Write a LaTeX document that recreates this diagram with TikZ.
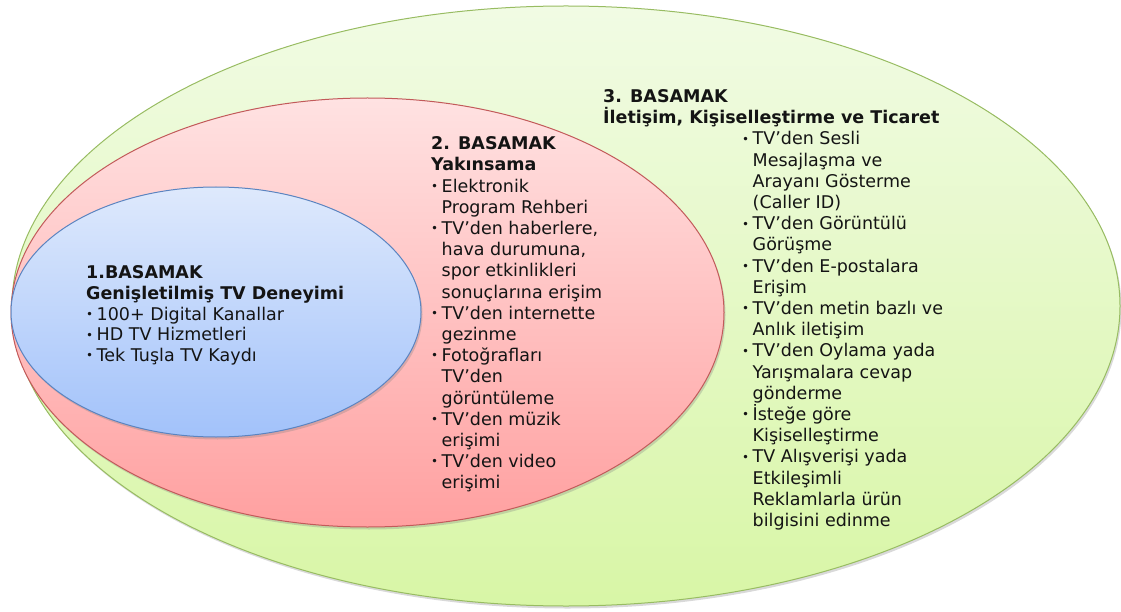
\documentclass[tikz,border=0pt]{standalone}
\usepackage{fontspec}
\usepackage{graphicx}
\setmainfont{DejaVu Sans}
\usetikzlibrary{shapes.geometric,shadows}
\definecolor{gtop}{HTML}{F1FBE4}
\definecolor{gbot}{HTML}{D8F6A6}
\definecolor{gline}{HTML}{98BC62}
\definecolor{rtop}{HTML}{FFE2E2}
\definecolor{rbot}{HTML}{FFA0A0}
\definecolor{rline}{HTML}{C25A5A}
\definecolor{btop}{HTML}{DEE9FC}
\definecolor{bbot}{HTML}{A2C2FA}
\definecolor{bline}{HTML}{5B84C0}
\definecolor{txtcol}{HTML}{141414}
\newcommand{\bul}{\makebox[10.5pt][l]{\raisebox{0.1em}{\scalebox{0.68}{•}}}}
\newcommand{\ind}{\hspace*{10.5pt}}
\tikzset{
  bubble/.style={ellipse, inner sep=0pt, line width=1pt,
    drop shadow={shadow xshift=1.5pt, shadow yshift=-2.5pt, opacity=0.3}},
  txt/.style={anchor=north west, inner sep=0pt, align=left, text=txtcol,
    font=\fontsize{17.5}{21.2}\selectfont},
  txtb/.style={txt, font=\fontsize{17.5}{20.75}\selectfont}
}
\begin{document}
\begin{tikzpicture}[x=1pt,y=-1pt]
\useasboundingbox (0,0) rectangle (1121,612);
\node[bubble, minimum width=1108pt, minimum height=600pt, top color=gtop, bottom color=gbot, draw=gline] (g) at (566,306) {};
\node[bubble, minimum width=713pt, minimum height=429pt, top color=rtop, bottom color=rbot, draw=rline] (r) at (367.5,312.5) {};
\node[bubble, minimum width=410pt, minimum height=250pt, top color=btop, bottom color=bbot, draw=bline] (b) at (216,312) {};
\node[txtb] (btext) at (86,265.5) {\textbf{1.BASAMAK}\\
\textbf{Genişletilmiş TV Deneyimi}\\
\bul 100+ Digital Kanallar\\
\bul HD TV Hizmetleri\\
\bul Tek Tuşla TV Kaydı};
\node[txt] (rtext) at (431,136.5) {\textbf{2. BASAMAK}\\
\textbf{Yakınsama}\\
\bul Elektronik\\
\ind Program Rehberi\\
\bul TV’den haberlere,\\
\ind hava durumuna,\\
\ind spor etkinlikleri\\
\ind sonuçlarına erişim\\
\bul TV’den internette\\
\ind gezinme\\
\bul Fotoğrafları\\
\ind TV’den\\
\ind görüntüleme\\
\bul TV’den müzik\\
\ind erişimi\\
\bul TV’den video\\
\ind erişimi};
\node[txt] (ghead) at (603,89.5) {\textbf{3. BASAMAK}\\
\textbf{İletişim, Kişiselleştirme ve Ticaret}};
\node[txt] (gtext) at (742,131.5) {\bul TV’den Sesli\\
\ind Mesajlaşma ve\\
\ind Arayanı Gösterme\\
\ind (Caller ID)\\
\bul TV’den Görüntülü\\
\ind Görüşme\\
\bul TV’den E-postalara\\
\ind Erişim\\
\bul TV’den metin bazlı ve\\
\ind Anlık iletişim\\
\bul TV’den Oylama yada\\
\ind Yarışmalara cevap\\
\ind gönderme\\
\bul İsteğe göre\\
\ind Kişiselleştirme\\
\bul TV Alışverişi yada\\
\ind Etkileşimli\\
\ind Reklamlarla ürün\\
\ind bilgisini edinme};
\end{tikzpicture}
\end{document}
